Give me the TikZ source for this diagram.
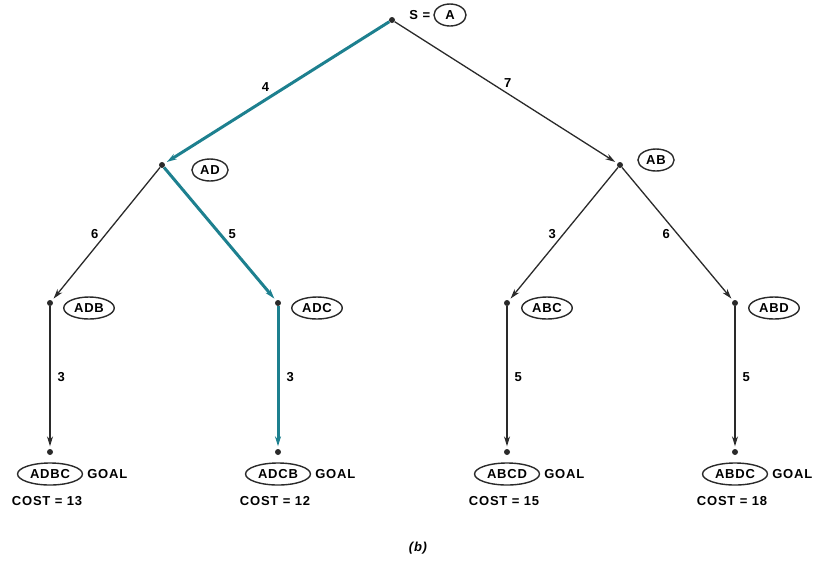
\documentclass[tikz,border=0pt]{standalone}
\usepackage{fontspec}
\setmainfont[LetterSpace=6]{Liberation Sans}
\usetikzlibrary{arrows.meta,shapes.geometric}
\definecolor{cpath}{HTML}{1D808F}
\definecolor{cline}{HTML}{2A2A2A}

\begin{document}
\begin{tikzpicture}[
  x=1pt, y=-1pt,
  font=\fontsize{13}{15}\selectfont\bfseries,
  pt/.style={circle, fill=cline, inner sep=0pt, minimum size=6pt},
  st/.style={ellipse, draw=cline, line width=1.4pt, inner xsep=3pt, inner ysep=1pt,
             minimum height=22pt, minimum width=32pt},
  edge/.style={-{Stealth[length=10pt, width=6pt]}, line width=1.3pt, draw=cline, shorten >=2.5pt},
  best/.style={-{Stealth[length=10pt, width=6pt]}, line width=3pt, draw=cpath, shorten >=2.5pt},
  w/.style={inner sep=1pt},
]
\useasboundingbox (0,0) rectangle (830,566);

% ------------------------------------------------------------------ tree nodes
\node[pt] (a)   at (392,20) {};
\node[pt] (ad)  at (162,165) {};
\node[pt] (ab)  at (620,165) {};
\node[pt] (adb) at (50,303) {};
\node[pt] (adc) at (278,303) {};
\node[pt] (abc) at (507,303) {};
\node[pt] (abd) at (735,303) {};
\node[pt] (adbc) at (50,452) {};
\node[pt] (adcb) at (278,452) {};
\node[pt] (abcd) at (507,452) {};
\node[pt] (abdc) at (735,452) {};

% ------------------------------------------------------------------ state labels
\node[st] (la) at (450,15) {A};
\node[anchor=east, inner xsep=3pt] (ls) at (la.west) {S =};
\node[st] (lad) at (210,170) {AD};
\node[st] (lab) at (656,160) {AB};
\node[st] (ladb) at (89,308) {ADB};
\node[st] (ladc) at (317,308) {ADC};
\node[st] (labc) at (547,308) {ABC};
\node[st] (labd) at (774,308) {ABD};

\node[st] (ladbc) at (50,474) {ADBC};
\node[st] (ladcb) at (278,474) {ADCB};
\node[st] (labcd) at (507,474) {ABCD};
\node[st] (labdc) at (735,474) {ABDC};
\foreach \g in {ladbc,ladcb,labcd,labdc}
  \node[anchor=west, inner xsep=4pt] (goal-\g) at (\g.east) {GOAL};

\node (cost1) at (47,501) {COST = 13};
\node (cost2) at (275,501) {COST = 12};
\node (cost3) at (504,501) {COST = 15};
\node (cost4) at (732,501) {COST = 18};

% ------------------------------------------------------------------ branches
\draw[edge] (a) -- node[w, pos=0.48, above right=1pt]{7} (ab);
\draw[edge] (ad) -- node[w, left=6pt]{6} (adb);
\draw[edge] (ab) -- node[w, left=6pt]{3} (abc);
\draw[edge] (ab) -- node[w, left=6pt]{6} (abd);
\draw[edge] (adb) -- node[w, right=6pt]{3} (adbc);
\draw[edge] (abc) -- node[w, right=6pt]{5} (abcd);
\draw[edge] (abd) -- node[w, right=6pt]{5} (abdc);

% cheapest path
\draw[best] (a) -- node[w, pos=0.52, above left=1pt]{4} (ad);
\draw[best] (ad) -- node[w, right=6pt]{5} (adc);
\draw[best] (adc) -- node[w, right=6pt]{3} (adcb);

\node[font=\fontsize{13}{15}\selectfont\bfseries\itshape] (cap) at (418,548) {(b)};
\end{tikzpicture}
\end{document}
